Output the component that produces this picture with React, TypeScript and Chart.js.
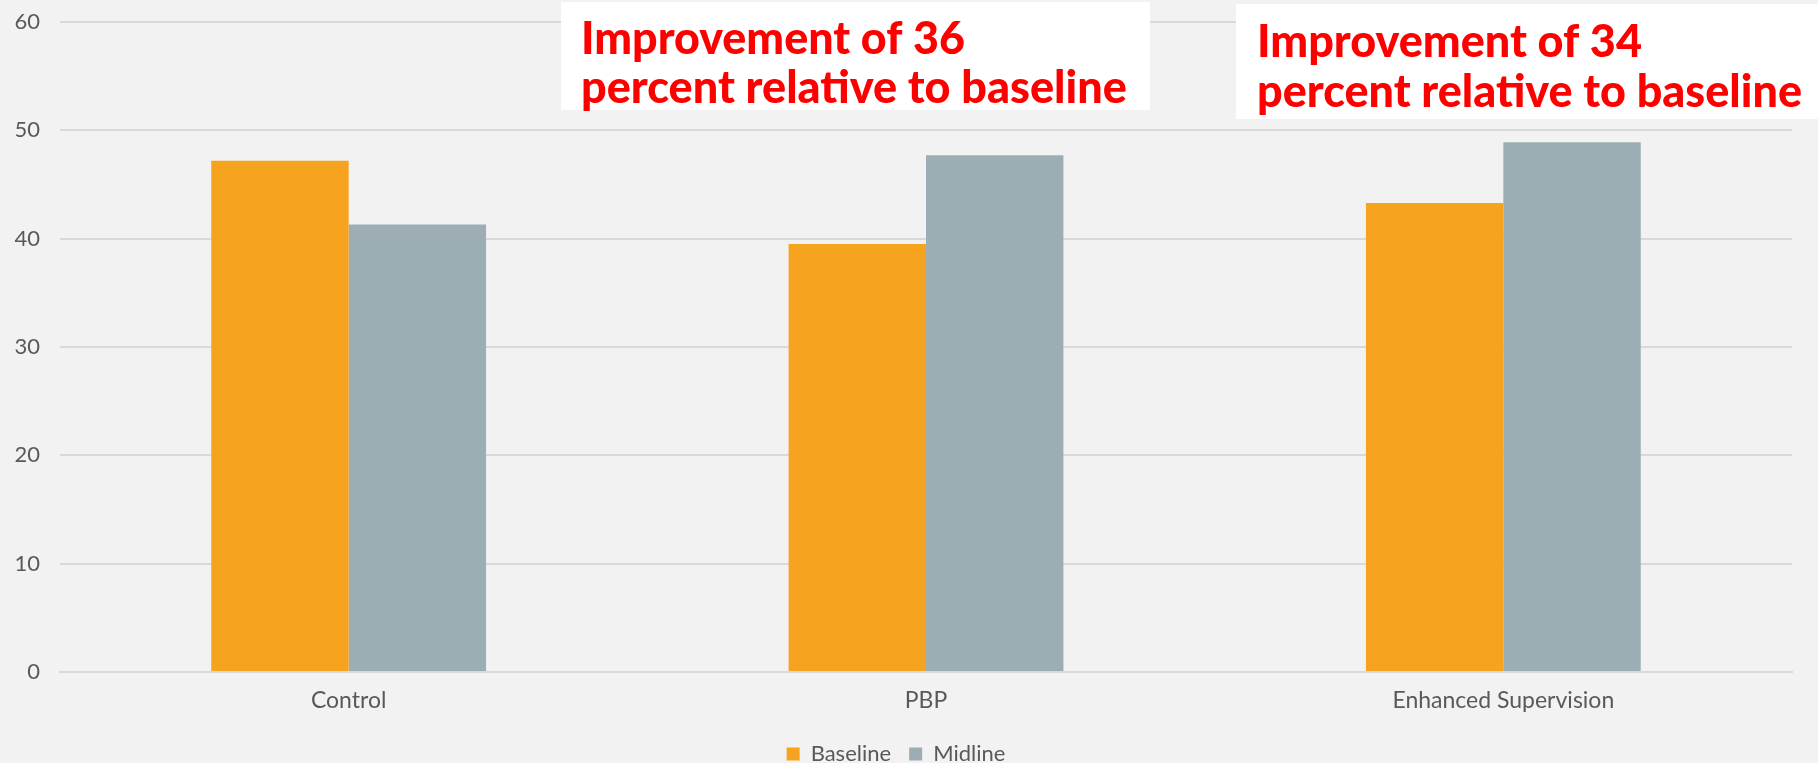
import React, { useEffect, useRef } from "react";
import { Chart, registerables } from "chart.js";

Chart.register(...registerables);

const categories = ["Control", "PBP", "Enhanced Supervision"];
const baselineValues = [47.2, 39.5, 43.3];
const midlineValues = [41.3, 47.7, 48.9];
const yTicks = [0, 10, 20, 30, 40, 50, 60];

const calloutA = ["Improvement of 36", "percent relative to baseline"];
const calloutB = ["Improvement of 34", "percent relative to baseline"];

const ORANGE = "#F6A31F";
const GREY = "#9CAEB3";
const TEXT = "#595959";
const GRID = "#D9D9D9";
const BG = "#F2F2F2";
const FONT = "Lato, 'Open Sans', sans-serif";

// White callout boxes with bold red text, drawn over the chart
const calloutPlugin = {
  id: "callouts",
  afterDraw(chart: any) {
    const ctx = chart.ctx;
    const boxes = [
      { lines: calloutA, x: 561, y: 2, w: 589, h: 108, tx: 581, b1: 54, b2: 103, w1: 384, w2: 546 },
      { lines: calloutB, x: 1236, y: 4, w: 582, h: 115, tx: 1257, b1: 57, b2: 107, w1: 385, w2: 545 },
    ];
    ctx.save();
    for (const b of boxes) {
      ctx.fillStyle = "#FFFFFF";
      ctx.fillRect(b.x, b.y, b.w, b.h);
      ctx.fillStyle = "#FF0000";
      ctx.font = `900 45px ${FONT}`;
      ctx.textAlign = "left";
      ctx.textBaseline = "alphabetic";
      ctx.fillText(b.lines[0], b.tx, b.b1, b.w1);
      ctx.fillText(b.lines[1], b.tx, b.b2, b.w2);
    }
    ctx.restore();
  },
};

const bgPlugin = {
  id: "bg",
  beforeDraw(chart: any) {
    const ctx = chart.ctx;
    ctx.save();
    ctx.fillStyle = BG;
    ctx.fillRect(0, 0, chart.width, chart.height);
    ctx.restore();
  },
};

// Move the legend row down near the bottom edge and give the x labels room
const layoutTweak = {
  id: "layoutTweak",
  afterLayout(chart: any) {
    const lg = chart.legend;
    if (lg) {
      lg.top += 12;
      lg.bottom += 12;
    }
    const x = chart.scales.x;
    if (x) {
      x.bottom = x.top + 60;
      x.height = 60;
    }
  },
};

export default function App() {
  const canvasRef = useRef<HTMLCanvasElement | null>(null);

  useEffect(() => {
    document.body.style.margin = "0";
    document.body.style.background = BG;
    const canvas = canvasRef.current;
    if (!canvas) return;
    const chart = new Chart(canvas, {
      type: "bar",
      data: {
        labels: categories,
        datasets: [
          {
            label: "Baseline",
            data: baselineValues,
            backgroundColor: ORANGE,
            borderWidth: 0,
            barPercentage: 1,
            categoryPercentage: 0.476,
          },
          {
            label: "Midline",
            data: midlineValues,
            backgroundColor: GREY,
            borderWidth: 0,
            barPercentage: 1,
            categoryPercentage: 0.476,
          },
        ],
      },
      options: {
        animation: false,
        responsive: false,
        maintainAspectRatio: false,
        layout: { padding: { top: 22, right: 26, left: 0, bottom: 0 } },
        plugins: {
          tooltip: { enabled: false },
          legend: {
            position: "bottom",
            labels: {
              boxWidth: 13,
              boxHeight: 13,
              padding: 18,
              color: TEXT,
              font: { family: FONT, size: 22, lineHeight: 1 },
            },
          },
        },
        scales: {
          x: {
            grid: { display: false, drawTicks: false },
            border: { display: true, color: GRID, width: 2 },
            ticks: {
              color: TEXT,
              padding: 15,
              font: { family: FONT, size: 23 },
            },
            afterFit(scale: any) {
              scale.height = 41;
            },
          },
          y: {
            min: 0,
            max: 60,
            afterBuildTicks(scale: any) {
              scale.ticks = yTicks.map((v) => ({ value: v }));
            },
            grid: { color: GRID, lineWidth: 2, drawTicks: false },
            border: { display: false },
            ticks: {
              color: TEXT,
              padding: 20,
              font: { family: FONT, size: 22 },
            },
            afterFit(scale: any) {
              scale.width = 60;
              scale.paddingTop = 0;
              scale.paddingBottom = 0;
            },
          },
        },
      },
      plugins: [bgPlugin, layoutTweak, calloutPlugin],
    });
    return () => chart.destroy();
  }, []);

  return (
    <div style={{ position: "fixed", top: 0, left: 0, width: 1818, height: 763, background: BG }}>
      <canvas ref={canvasRef} width={1818} height={763} style={{ display: "block" }} />
    </div>
  );
}
